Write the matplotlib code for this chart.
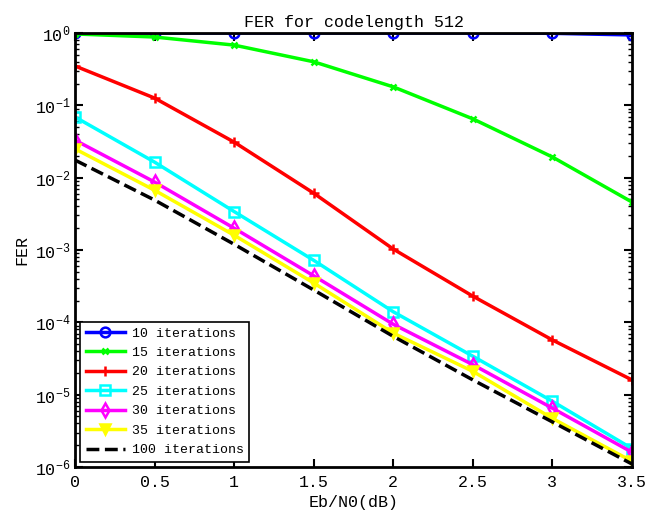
import matplotlib
matplotlib.use('Agg')
import matplotlib.pyplot as plt

plt.rcParams['font.family'] = ['Liberation Mono', 'DejaVu Sans Mono']
plt.rcParams['mathtext.fontset'] = 'custom'
plt.rcParams['mathtext.rm'] = 'Liberation Mono'

ebn0 = [0, 0.5, 1, 1.5, 2, 2.5, 3, 3.5]
fer_10 = [1.0, 1.0, 1.0, 1.0, 1.0, 1.0, 0.99, 0.94]
fer_15 = [0.97, 0.88, 0.68, 0.40, 0.18, 0.065, 0.0193, 0.0046]
fer_20 = [0.35, 0.126, 0.031, 0.0061, 0.00103, 2.3e-4, 5.7e-5, 1.6e-5]
fer_25 = [0.069, 0.0164, 0.0034, 7.2e-4, 1.4e-4, 3.4e-5, 8.1e-6, 1.8e-6]
fer_30 = [0.033, 0.0087, 0.0020, 4.4e-4, 9.4e-5, 2.6e-5, 6.5e-6, 1.6e-6]
fer_35 = [0.025, 0.0067, 0.0016, 3.5e-4, 7.1e-5, 2.1e-5, 4.7e-6, 1.2e-6]
fer_100 = [0.0175, 0.0049, 0.0012, 2.8e-4, 6.4e-5, 1.6e-5, 4.2e-6, 1.1e-6]

fig = plt.figure(figsize=(6.49, 5.14), dpi=100)
ax = fig.add_axes([0.1156, 0.0914, 0.8582, 0.8444])

kw = dict(lw=2.5, mew=1.8)
ax.semilogy(ebn0, fer_10, color='#0000ff', marker='o', ms=7, mfc='none', label='10 iterations', **kw)
ax.semilogy(ebn0, fer_15, color='#00ff00', marker='x', ms=5, label='15 iterations', **kw)
ax.semilogy(ebn0, fer_20, color='#ff0000', marker='+', ms=7, label='20 iterations', **kw)
ax.semilogy(ebn0, fer_25, color='#00ffff', marker='s', ms=6.5, mfc='none', label='25 iterations', **kw)
ax.semilogy(ebn0, fer_30, color='#ff00ff', marker='d', ms=7, mfc='none', label='30 iterations', **kw)
ax.semilogy(ebn0, fer_35, color='#ffff00', marker='v', ms=7, label='35 iterations', **kw)
ax.semilogy(ebn0, fer_100, color='black', ls='--', lw=2.5, label='100 iterations')

ax.set_xlim(0, 3.5)
ax.set_ylim(1e-6, 1)
ax.set_xticks(ebn0)
ax.set_xticklabels(['0', '0.5', '1', '1.5', '2', '2.5', '3', '3.5'])
ax.tick_params(which='both', direction='in', top=True, right=True, labelsize=12)
ax.tick_params(axis='x', pad=6)
ax.tick_params(which='major', length=6, width=1.5)
ax.tick_params(which='minor', length=3, width=1)
for s in ax.spines.values():
    s.set_linewidth(2)

ax.set_title('FER for codelength 512', fontsize=12, pad=4)
ax.set_xlabel('Eb/N0(dB)', fontsize=12, labelpad=3)
ax.set_ylabel('FER', fontsize=12)

leg = ax.legend(loc='lower left', fontsize=9.5, fancybox=False, framealpha=1,
                edgecolor='black', handlelength=3.0, labelspacing=0.55,
                borderaxespad=0.4, handletextpad=0.5)
leg.get_frame().set_linewidth(1.2)

plt.savefig('out.png', dpi=100)
plt.close()
